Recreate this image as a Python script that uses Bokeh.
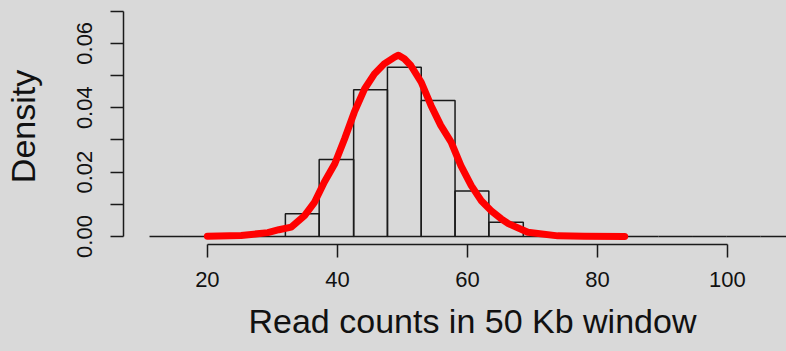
from bokeh.plotting import figure
from bokeh.models import FixedTicker, Range1d, Title, PrintfTickFormatter, ColumnDataSource
from bokeh.embed import file_html
from bokeh.resources import INLINE

# ---- data ----
bin_edges = [11.1, 16.4, 21.6, 26.8, 32.0, 37.2, 42.5, 47.7, 52.9, 58.1,
             63.3, 68.6, 73.8, 79.0, 84.2, 89.4, 94.7, 99.9, 105.1, 110.3]
bin_density = [0.0, 0.0, 0.0, 0.0, 0.00705, 0.0239, 0.0456, 0.0526, 0.0422,
               0.0141, 0.0044, 0.0, 0.0, 0.0, 0.0, 0.0, 0.0, 0.0, 0.0]

curve_x = [20.0, 25.2, 29.3, 31.0, 32.9, 34.95, 36.5, 38.0, 39.6, 41.1, 42.6,
           44.2, 45.7, 47.2, 48.8, 49.4, 50.3, 51.3, 52.9, 54.4, 55.9, 57.5,
           59.0, 60.6, 62.1, 63.6, 65.2, 66.3, 69.3, 73.9, 78.0, 84.2]
curve_y = [0.0001, 0.0003, 0.0012, 0.0021, 0.0029, 0.0065, 0.0107, 0.0169,
           0.0226, 0.0303, 0.0386, 0.0459, 0.0505, 0.0536, 0.0557, 0.0563,
           0.0552, 0.0531, 0.0479, 0.0407, 0.0345, 0.0293, 0.0220, 0.0158,
           0.0112, 0.0081, 0.0055, 0.0040, 0.0013, 0.0002, 0.00005, 0.0]

x_ticks = [20, 40, 60, 80, 100]
y_ticks = [0.0, 0.02, 0.04, 0.06]
y_minor_ticks = [0.01, 0.03, 0.05, 0.07]

x_label = "Read counts in 50 Kb window"
y_label = "Density"

BG = "#D9D9D9"
FONT = "Liberation Sans"
INK = "#1a1a1a"

p = figure(width=786, height=351, output_backend="svg", toolbar_location=None,
           x_range=Range1d(7.097, 109.09), y_range=Range1d(-0.002484, 0.070807),
           min_border_left=122, min_border_right=0, min_border_top=8,
           min_border_bottom=107)
p.background_fill_color = BG
p.border_fill_color = BG
p.outline_line_color = None
p.grid.visible = False

src = ColumnDataSource(dict(left=bin_edges[:-1], right=bin_edges[1:],
                            top=bin_density, bottom=[0.0] * len(bin_density)))
p.quad(left="left", right="right", top="top", bottom="bottom", source=src,
       fill_color=None, line_color=INK, line_width=1.5)
p.line(curve_x, curve_y, line_color="#FF0000", line_width=7,
       line_cap="round", line_join="round")

for ax in (p.xaxis[0], p.yaxis[0]):
    ax.axis_line_color = INK
    ax.axis_line_width = 1.5
    ax.major_tick_line_color = INK
    ax.major_tick_line_width = 1.5
    ax.minor_tick_line_color = INK
    ax.minor_tick_line_width = 1.5
    ax.major_tick_in = 0
    ax.major_tick_out = 13
    ax.minor_tick_in = 0
    ax.minor_tick_out = 13
    ax.major_label_text_font = FONT
    ax.major_label_text_font_size = "22px"
    ax.major_label_text_color = "#111111"

p.xaxis.ticker = FixedTicker(ticks=x_ticks)
p.xaxis.bounds = (20, 100)
p.xaxis.major_label_standoff = 14

p.yaxis.ticker = FixedTicker(ticks=y_ticks, minor_ticks=y_minor_ticks)
p.yaxis.bounds = (0, 0.07)
p.yaxis.formatter = PrintfTickFormatter(format="%.2f")
p.yaxis.major_label_orientation = "vertical"
p.yaxis.major_label_standoff = 18
p.yaxis.axis_label = y_label
p.yaxis.axis_label_text_font = FONT
p.yaxis.axis_label_text_font_size = "34px"
p.yaxis.axis_label_text_font_style = "normal"
p.yaxis.axis_label_text_color = "#111111"
p.yaxis.axis_label_standoff = 33

# x-axis title, left-aligned with an offset so it sits where R centred it
p.add_layout(Title(text=x_label, align="left", offset=125, text_font=FONT,
                   text_font_size="34px", text_font_style="normal",
                   text_color="#111111", standoff=20), "below")

html = file_html(p, INLINE)
html = html.replace("</head>",
                    "<style>html,body{background-color:#D9D9D9;}</style></head>", 1)
open("out.html", "w").write(html)
